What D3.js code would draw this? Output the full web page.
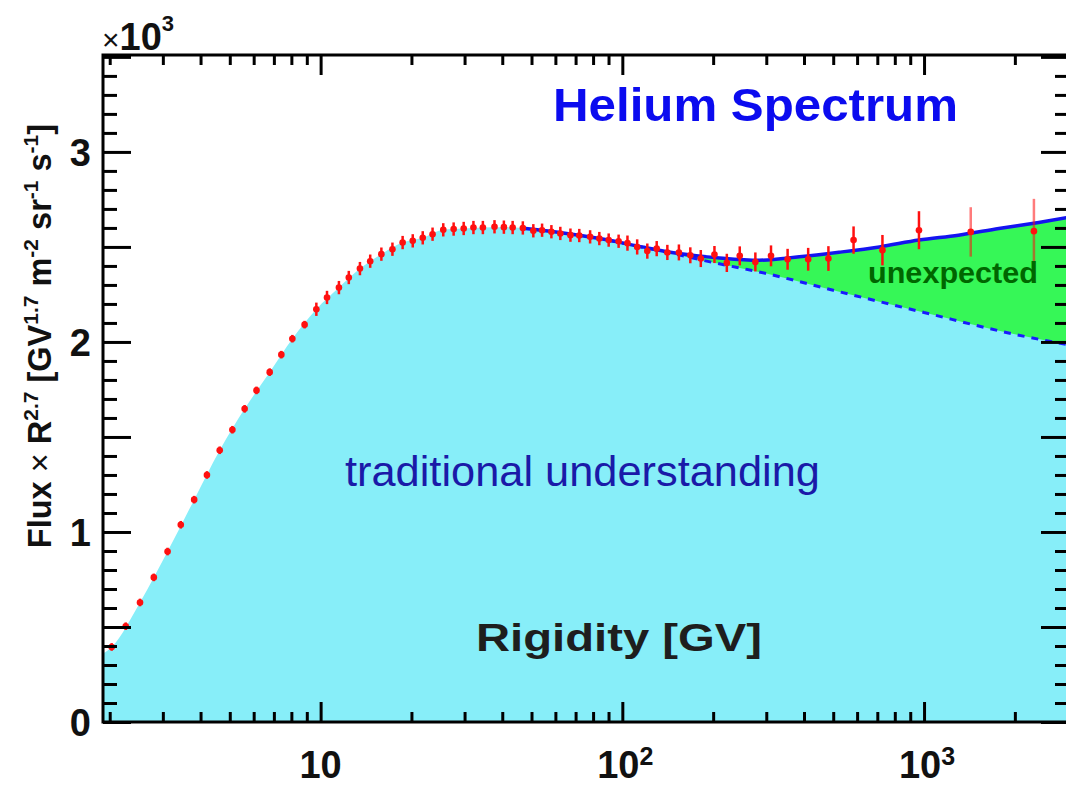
<!DOCTYPE html>
<html>
<head>
<meta charset="utf-8">
<script src="https://cdn.jsdelivr.net/npm/d3@7"></script>
<style>
  body { margin: 0; background: #fff; }
  text { font-family: "Liberation Sans", Arial, Helvetica, sans-serif; }
</style>
</head>
<body>
<svg width="1066" height="785"></svg>
<script>
// measured points: rigidity [GV], flux x R^2.7 (units of 10^3), error
const rigidity = [2.03, 2.26, 2.52, 2.80, 3.11, 3.44, 3.81, 4.20, 4.63, 5.10, 5.60, 6.13, 6.78, 7.41, 8.06, 8.85,
  9.68, 10.5, 11.5, 12.4, 13.5, 14.6, 15.9, 17.3, 18.7, 20.2, 21.8, 23.5, 25.5, 27.6, 29.8, 32.1, 34.5, 37.7,
  40.5, 43.3, 46.8, 50.7, 54.2, 58.2, 62.3, 67.3, 72.0, 78.2, 83.9, 90.1, 97.2,
  104, 112, 121, 130, 141, 154, 168, 182, 202, 222, 245, 276, 311, 353, 413, 482, 584, 728, 962, 1428, 2313];
const flux = [0.395, 0.504, 0.629, 0.761, 0.897, 1.038, 1.170, 1.300, 1.430, 1.538, 1.648, 1.745, 1.841, 1.933, 2.017, 2.091,
  2.172, 2.234, 2.286, 2.339, 2.386, 2.425, 2.462, 2.488, 2.523, 2.532, 2.548, 2.567, 2.590, 2.594, 2.597, 2.602, 2.602, 2.606,
  2.604, 2.602, 2.600, 2.585, 2.588, 2.580, 2.571, 2.562, 2.560, 2.553, 2.544, 2.536, 2.530,
  2.520, 2.500, 2.478, 2.491, 2.471, 2.471, 2.456, 2.439, 2.460, 2.416, 2.453, 2.421, 2.453, 2.435, 2.435, 2.439, 2.536, 2.483, 2.588, 2.579, 2.583];
const fluxErr = [0.02, 0.02, 0.02, 0.02, 0.02, 0.02, 0.02, 0.02, 0.02, 0.02, 0.02, 0.02, 0.02, 0.02, 0.02, 0.02,
  0.035, 0.035, 0.035, 0.035, 0.035, 0.035, 0.035, 0.035, 0.035, 0.035, 0.035, 0.035, 0.035, 0.035, 0.035, 0.035, 0.035, 0.035,
  0.035, 0.035, 0.035, 0.035, 0.035, 0.035, 0.035, 0.035, 0.035, 0.035, 0.035, 0.035, 0.035,
  0.04, 0.04, 0.04, 0.04, 0.04, 0.042, 0.042, 0.045, 0.045, 0.048, 0.05, 0.05, 0.055, 0.055, 0.06, 0.065, 0.072, 0.08, 0.1, 0.13, 0.17];

// fit to the data (solid blue)
const fitRigidity = [46, 62, 84, 114, 154, 210, 284, 386, 523, 711, 962, 1300, 1770, 2400, 3000];
const fitFlux = [2.60, 2.576, 2.544, 2.503, 2.465, 2.442, 2.430, 2.448, 2.472, 2.50, 2.536, 2.562, 2.597, 2.629, 2.655];

// traditional single power law (cyan area, dashed blue)
const modelRigidity = [1.9, 2.03, 2.52, 3.11, 3.81, 4.63, 5.6, 6.78, 8.06, 9.68, 11.5, 13.5, 15.9, 18.7, 21.8, 25.5,
  29.8, 34.5, 40.5, 46.8, 58.2, 72, 90, 120, 150, 200, 300, 500, 1000, 2000, 3000];
const modelFlux = [0.36, 0.395, 0.629, 0.897, 1.170, 1.430, 1.648, 1.841, 2.017, 2.172, 2.286, 2.386, 2.462, 2.523, 2.548, 2.590,
  2.597, 2.602, 2.604, 2.600, 2.580, 2.560, 2.535, 2.495, 2.462, 2.418, 2.36, 2.272, 2.155, 2.04, 1.985];

const xMajorTicks = [10, 100, 1000];
const xTickLabels = [["10", ""], ["10", "2"], ["10", "3"]];
const yTickLabels = [0, 1, 2, 3];

const svg = d3.select("svg");
const plotLeft = 103, plotRight = 1068, plotTop = 55, plotBottom = 722;

const x = d3.scaleLog().domain([1.9, 3000]).range([plotLeft, plotRight]);
const y = d3.scaleLinear().domain([0, 3.51]).range([plotBottom, plotTop]);

const points = rigidity.map((r, i) => ({ r: r, f: flux[i], e: fluxErr[i] }));
const fit = fitRigidity.map((r, i) => ({ r: r, f: fitFlux[i] }));
const model = modelRigidity.map((r, i) => ({ r: r, f: modelFlux[i] }));

const area = d3.area()
  .x(d => x(d.r))
  .y0(y(0))
  .y1(d => y(d.f))
  .curve(d3.curveMonotoneX);
const line = d3.line()
  .x(d => x(d.r))
  .y(d => y(d.f))
  .curve(d3.curveMonotoneX);

const g = svg.append("g");

// unexpected excess (green) under the fit, then the traditional area on top
g.append("path").datum(fit).attr("d", area).attr("fill", "#36f757");
g.append("path").datum(model).attr("d", area).attr("fill", "#87eef9");

g.append("path").datum(model.filter(d => d.r >= 90)).attr("d", line)
  .attr("fill", "none").attr("stroke", "#1a1aff").attr("stroke-width", 3)
  .attr("stroke-dasharray", "7,7");
g.append("path").datum(fit).attr("d", line)
  .attr("fill", "none").attr("stroke", "#1414f0").attr("stroke-width", 3.5);

// data points
g.selectAll(".err").data(points).enter().append("line")
  .attr("class", "err")
  .attr("x1", d => x(d.r)).attr("x2", d => x(d.r))
  .attr("y1", d => y(d.f - d.e)).attr("y2", d => y(d.f + d.e))
  .attr("stroke", "#ff1010").attr("stroke-width", 2.5)
  .attr("opacity", d => d.e > 0.12 ? 0.55 : 1);
g.selectAll(".pt").data(points).enter().append("circle")
  .attr("class", "pt")
  .attr("cx", d => x(d.r)).attr("cy", d => y(d.f))
  .attr("r", 3.3).attr("fill", "#ff1010");

// annotations
g.append("text").attr("x", 553).attr("y", 121)
  .attr("font-size", 47).attr("font-weight", "bold").attr("fill", "#0b0bef")
  .attr("textLength", 405).attr("lengthAdjust", "spacingAndGlyphs")
  .text("Helium Spectrum");
g.append("text").attr("x", 345).attr("y", 486)
  .attr("font-size", 42).attr("fill", "#1a1aa8")
  .attr("textLength", 475).attr("lengthAdjust", "spacingAndGlyphs")
  .text("traditional understanding");
g.append("text").attr("x", 476).attr("y", 651)
  .attr("font-size", 38).attr("font-weight", "bold").attr("fill", "#1e1e1e")
  .attr("textLength", 286).attr("lengthAdjust", "spacingAndGlyphs")
  .text("Rigidity [GV]");
g.append("text").attr("x", 868).attr("y", 283)
  .attr("font-size", 30).attr("font-weight", "bold").attr("fill", "#006600")
  .attr("textLength", 170).attr("lengthAdjust", "spacingAndGlyphs")
  .text("unexpected");

// axes: ROOT style ticks pointing inward on all four sides
const xMinor = x.ticks().filter(v => !xMajorTicks.includes(v));
const yAll = d3.range(0, 36).map(i => i / 10);
const yMajor = yAll.filter((v, i) => i % 5 === 0);
const yMinor = yAll.filter((v, i) => i % 5 !== 0);

function ticks(axis, values, size, tx, ty) {
  const a = g.append("g")
    .attr("transform", `translate(${tx},${ty})`)
    .call(axis.tickValues(values).tickSize(size).tickFormat(""));
  a.select(".domain").remove();
  a.selectAll(".tick line").attr("stroke", "#000").attr("stroke-width", 3);
}
ticks(d3.axisTop(x), xMinor, 10, 0, plotBottom);
ticks(d3.axisTop(x), xMajorTicks, 20, 0, plotBottom);
ticks(d3.axisBottom(x), xMinor, 10, 0, plotTop);
ticks(d3.axisBottom(x), xMajorTicks, 20, 0, plotTop);
ticks(d3.axisRight(y), yMinor, 14, plotLeft, 0);
ticks(d3.axisRight(y), yMajor, 28, plotLeft, 0);
ticks(d3.axisLeft(y), yMinor, 13, plotRight, 0);
ticks(d3.axisLeft(y), yMajor, 27, plotRight, 0);

g.append("rect")
  .attr("x", plotLeft).attr("y", plotTop)
  .attr("width", plotRight - plotLeft).attr("height", plotBottom - plotTop)
  .attr("fill", "none").attr("stroke", "#000").attr("stroke-width", 3);

// tick labels
g.selectAll(".ylab").data(yTickLabels).enter().append("text")
  .attr("class", "ylab")
  .attr("x", 91).attr("y", d => y(d) + 14)
  .attr("text-anchor", "end").attr("font-size", 38).attr("font-weight", "bold").attr("fill", "#111")
  .text(d => d);

const xl = g.selectAll(".xlab").data(xMajorTicks).enter().append("text")
  .attr("class", "xlab")
  .attr("x", (d, i) => x(d) + (i ? 3 : 0)).attr("y", 778)
  .attr("text-anchor", "middle").attr("font-size", 38).attr("font-weight", "bold").attr("fill", "#111");
xl.append("tspan").text((d, i) => xTickLabels[i][0]);
xl.append("tspan").attr("dy", -13).attr("font-size", 25).text((d, i) => xTickLabels[i][1]);

const mult = g.append("text").attr("x", 102).attr("y", 50)
  .attr("font-size", 38).attr("fill", "#111");
mult.append("tspan").attr("font-size", 30).text("\u00d7");
mult.append("tspan").attr("font-weight", "bold").text("10");
mult.append("tspan").attr("dy", -19).attr("font-size", 22).attr("font-weight", "bold").text("3");

// y axis title
const yt = g.append("text")
  .attr("transform", `translate(51,336) rotate(-90)`)
  .attr("text-anchor", "middle").attr("font-size", 32.5).attr("font-weight", "bold").attr("fill", "#111");
const parts = [["Flux ", 0], ["\u00d7", 2], [" R", 0], ["2.7", 1], [" [GV", 0], ["1.7", 1], [" m", 0], ["-2", 1],
  [" sr", 0], ["-1", 1], [" s", 0], ["-1", 1], ["]", 0]];
let raised = false;
parts.forEach(([t, kind]) => {
  const ts = yt.append("tspan").text(t);
  if (kind === 1) {
    ts.attr("font-size", 21).attr("dy", -13);
    raised = true;
  } else {
    if (raised) { ts.attr("dy", 13); raised = false; }
    if (kind === 2) ts.attr("font-weight", "normal");
  }
});
</script>
</body>
</html>
